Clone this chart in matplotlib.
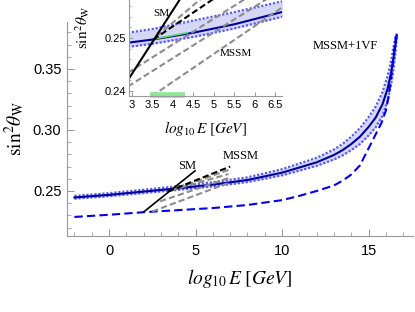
import numpy as np
import matplotlib
matplotlib.use('Agg')
import matplotlib.pyplot as plt
from matplotlib.ticker import MultipleLocator

plt.rcParams['font.family'] = ['Liberation Sans', 'DejaVu Sans']
plt.rcParams['mathtext.fontset'] = 'stix'

# --- main panel data (log10 E [GeV], sin^2 theta_W) ---
vf_x = [-2, 0, 2, 4, 6, 8, 10, 12, 13, 13.5, 14, 14.5, 15, 15.4, 15.8, 16.1, 16.3, 16.45, 16.55, 16.63]
vf_mid = [0.2447, 0.2468, 0.2495, 0.2522, 0.2552, 0.2590, 0.2650, 0.2735, 0.2795, 0.2835,
		  0.2885, 0.2945, 0.3025, 0.3100, 0.3210, 0.3340, 0.3470, 0.3600, 0.3700, 0.3775]
vf_up = [0.2460, 0.2482, 0.2510, 0.2539, 0.2571, 0.2612, 0.2678, 0.2772, 0.2840, 0.2886,
		 0.2945, 0.3015, 0.3105, 0.3190, 0.3310, 0.3445, 0.3570, 0.3690, 0.3760, 0.3790]
vf_lo = [0.2437, 0.2457, 0.2483, 0.2509, 0.2537, 0.2573, 0.2628, 0.2706, 0.2758, 0.2792,
		 0.2835, 0.2885, 0.2955, 0.3020, 0.3115, 0.3240, 0.3370, 0.3510, 0.3630, 0.3760]

mssm_x = [-2, 0, 2, 4, 6, 8, 10, 11, 12, 13, 13.5, 14, 14.5, 15, 15.5, 15.75, 16.0,
		  16.15, 16.3, 16.45, 16.58]
mssm_y = [0.2287, 0.2305, 0.2326, 0.2343, 0.2360, 0.2385, 0.2425, 0.2460, 0.2500, 0.2545,
		  0.2585, 0.2635, 0.2710, 0.2850, 0.2990, 0.3060, 0.3160, 0.3270, 0.3430, 0.3620, 0.3770]

sm_x = [2.0, 4.97]
sm_y = [0.2328, 0.2665]
blk_x = [3.4, 7.0]
blk_y = [0.2496, 0.2700]
gray_x = [[3.5, 6.9], [3.6, 6.9], [2.95, 6.9], [2.5, 6.85]]
gray_y = [[0.2500, 0.2672], [0.2505, 0.2639], [0.2415, 0.2605], [0.2332, 0.2563]]

# --- inset data ---
in_x = [2.9, 3.5, 4.5, 5.5, 6.7]
in_mid = [0.2491, 0.2497, 0.2510, 0.2526, 0.2550]
in_up = [0.2510, 0.2517, 0.2533, 0.2549, 0.2570]
in_lo = [0.2483, 0.2489, 0.2502, 0.2518, 0.2541]
in_sm_x = [2.9, 4.25]
in_sm_y = [0.2420, 0.2583]
in_blk_x = [3.52, 5.1]
in_blk_y = [0.2497, 0.2580]
in_gray_x = [[3.60, 4.8], [2.9, 6.7], [2.9, 6.7], [3.3, 6.7]]
in_gray_y = [[0.2503, 0.2582], [0.2434, 0.2620], [0.2408, 0.2594], [0.2380, 0.2560]]
green_band_x = [3.44, 4.30]
green_band_y = [0.2392, 0.2392]
green_line_x = [3.6, 4.35]
green_line_y = [0.2499, 0.2510]
in_xticks = [3, 3.5, 4, 4.5, 5, 5.5, 6, 6.5]
in_xticklabels = ['3', '3.5', '4', '4.5', '5', '5.5', '6', '6.5']

dark_blue = '#00009a'
mid_blue = '#5a5af0'
fill_blue = '#d6d6f7'
gray = '#8c8c8c'
axis_gray = '#9a9a9a'


def style_axes(ax, size, major_len, minor_len):
	for s in ['top', 'right']:
		ax.spines[s].set_visible(False)
	for s in ['left', 'bottom']:
		ax.spines[s].set_color(axis_gray)
	ax.tick_params(which='both', direction='in', colors=axis_gray, labelcolor='black',
				   labelsize=size)
	ax.tick_params(which='major', length=major_len)
	ax.tick_params(which='minor', length=minor_len)


def draw_band(ax, x, mid, up, lo):
	ax.fill_between(x, lo, up, color=fill_blue, lw=0)
	ax.plot(x, up, color=mid_blue, lw=1.6, ls=(0, (1, 0.8)))
	ax.plot(x, lo, color=mid_blue, lw=1.6, ls=(0, (1, 0.8)))
	ax.plot(x, mid, color=dark_blue, lw=1.5)


fig = plt.figure(figsize=(4.15, 3.12), dpi=100)
ax = fig.add_axes([0.1614, 0.2436, 0.834, 0.686])

draw_band(ax, vf_x, vf_mid, vf_up, vf_lo)
ax.plot(mssm_x, mssm_y, color='#0000ee', lw=1.5, dashes=(4, 2))
for gx, gy in zip(gray_x, gray_y):
	ax.plot(gx, gy, color=gray, lw=1.5, dashes=(3, 1.5))
ax.plot(blk_x, blk_y, color='black', lw=1.5, dashes=(3, 1.5))
ax.plot(sm_x, sm_y, color='black', lw=1.2)

ax.text(4.53, 0.2705, 'SM', family='Liberation Serif', fontsize=9, ha='center', va='center')
ax.text(7.63, 0.2787, 'MSSM', family='Liberation Serif', fontsize=9, ha='center', va='center')
ax.text(13.64, 0.3689, 'MSSM+1VF', family='Liberation Serif', fontsize=9, ha='center', va='center')

ax.set_xlim(-2.43, 17.57)
ax.set_ylim(0.2131, 0.3885)
ax.xaxis.set_major_locator(MultipleLocator(5))
ax.xaxis.set_minor_locator(MultipleLocator(1))
ax.yaxis.set_major_locator(MultipleLocator(0.05))
ax.yaxis.set_minor_locator(MultipleLocator(0.01))
ax.yaxis.set_major_formatter(plt.FormatStrFormatter('%.2f'))
style_axes(ax, 10.5, 5, 3)
ax.tick_params(axis='x', pad=6)
ax.tick_params(axis='y', pad=4)
ax.set_xlabel(r'$log_{10}\,E\;[GeV]$', fontsize=14, labelpad=6)
ax.set_ylabel(r'$\mathrm{sin}^2\theta_\mathrm{W}$', fontsize=14)
ax.yaxis.set_label_coords(-0.115, 0.5)

# inset
ins = fig.add_axes([0.3108, 0.6923, 0.3687, 0.3077])
ins.set_facecolor('white')
draw_band(ins, in_x, in_mid, in_up, in_lo)
ins.plot(green_line_x, green_line_y, color='#66dd66', lw=1.2)
for gx, gy in zip(in_gray_x, in_gray_y):
	ins.plot(gx, gy, color=gray, lw=1.5, dashes=(3, 1.5))
ins.plot(in_blk_x, in_blk_y, color='black', lw=1.5, dashes=(3, 1.5))
ins.plot(in_sm_x, in_sm_y, color='black', lw=1.5)
ins.plot(green_band_x, green_band_y, color='#8ee88e', lw=4, solid_capstyle='butt', clip_on=False)

ins.text(3.72, 0.2547, 'SM', family='Liberation Serif', fontsize=8, ha='center', va='center')
ins.text(5.54, 0.2470, 'MSSM', family='Liberation Serif', fontsize=8, ha='center', va='center')

ins.set_xlim(2.927, 6.66)
ins.set_ylim(0.2390, 0.2572)
ins.set_xticks(in_xticks)
ins.set_xticklabels(in_xticklabels)
ins.set_yticks([0.24, 0.25])
ins.set_yticklabels(['0.24', '0.25'])
ins.yaxis.set_minor_locator(MultipleLocator(0.002))
style_axes(ins, 8, 3, 1.5)
ins.tick_params(axis='x', pad=3)
ins.tick_params(axis='y', pad=2)
ins.set_xlabel(r'$log_{10}\,E\;[GeV]$', fontsize=11, labelpad=6)
ins.set_ylabel(r'$\mathrm{sin}^2\theta_\mathrm{W}$', fontsize=11)
ins.yaxis.set_label_coords(-0.24, 0.72)

fig.savefig('out.png', dpi=100)
